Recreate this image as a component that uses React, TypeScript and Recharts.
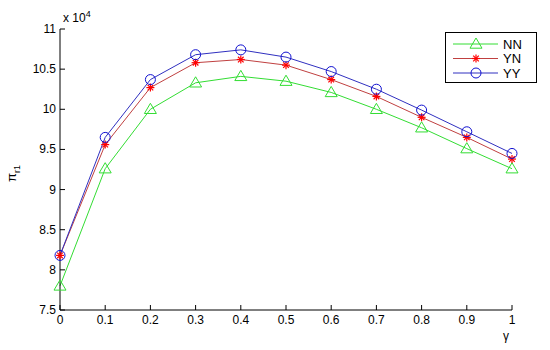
import { LineChart, Line, XAxis, YAxis } from "recharts";

const gammas = [0, 0.1, 0.2, 0.3, 0.4, 0.5, 0.6, 0.7, 0.8, 0.9, 1];
const nn = [7.8, 9.26, 10.0, 10.33, 10.41, 10.35, 10.21, 10.0, 9.77, 9.51, 9.26];
const yn = [8.18, 9.56, 10.27, 10.58, 10.62, 10.55, 10.37, 10.16, 9.9, 9.65, 9.38];
const yy = [8.18, 9.65, 10.37, 10.68, 10.74, 10.65, 10.47, 10.25, 9.99, 9.72, 9.45];
const xTicks = [0, 0.1, 0.2, 0.3, 0.4, 0.5, 0.6, 0.7, 0.8, 0.9, 1];
const yTicks = [7.5, 8, 8.5, 9, 9.5, 10, 10.5, 11];

const data = gammas.map((g, i) => ({ g, NN: nn[i], YN: yn[i], YY: yy[i] }));

const FONT = "'Liberation Sans', Arial, sans-serif";
const TICK = 5;

function Triangle({ cx, cy, color }: any) {
  const s = 6;
  return (
    <polygon
      points={`${cx},${cy - s} ${cx - s},${cy + s * 0.7} ${cx + s},${cy + s * 0.7}`}
      fill="none"
      stroke={color}
      strokeWidth={1}
    />
  );
}

function Star({ cx, cy, color }: any) {
  const s = 4;
  return (
    <g stroke={color} strokeWidth={1.2}>
      <line x1={cx - s} y1={cy} x2={cx + s} y2={cy} />
      <line x1={cx} y1={cy - s} x2={cx} y2={cy + s} />
      <line x1={cx - s * 0.7} y1={cy - s * 0.7} x2={cx + s * 0.7} y2={cy + s * 0.7} />
      <line x1={cx - s * 0.7} y1={cy + s * 0.7} x2={cx + s * 0.7} y2={cy - s * 0.7} />
    </g>
  );
}

function Circle({ cx, cy, color }: any) {
  return <circle cx={cx} cy={cy} r={5} fill="none" stroke={color} strokeWidth={1} />;
}

const series = [
  { key: "NN", line: "#33dd33", mark: "#33dd33", Marker: Triangle },
  { key: "YN", line: "#c04040", mark: "#ff0000", Marker: Star },
  { key: "YY", line: "#3030c0", mark: "#1010d0", Marker: Circle },
];

function BottomTick({ x, y, payload }: any) {
  return (
    <g>
      <line x1={x} y1={y} x2={x} y2={y - TICK} stroke="#000" />
      <text x={x} y={y + 14} textAnchor="middle" fontSize={12} fill="#000" fontFamily={FONT}>
        {payload.value}
      </text>
    </g>
  );
}

function TopTick({ x, y }: any) {
  return <line x1={x} y1={y} x2={x} y2={y + TICK} stroke="#000" />;
}

function LeftTick({ x, y, payload }: any) {
  return (
    <g>
      <line x1={x} y1={y} x2={x + TICK} y2={y} stroke="#000" />
      <text x={x - 4} y={y + 4} textAnchor="end" fontSize={12} fill="#000" fontFamily={FONT}>
        {payload.value}
      </text>
    </g>
  );
}

function RightTick({ x, y }: any) {
  return <line x1={x} y1={y} x2={x - TICK} y2={y} stroke="#000" />;
}

function LegendBox() {
  return (
    <svg width={92} height={51} style={{ position: "absolute", left: 445, top: 32 }}>
      <rect x={0.5} y={0.5} width={91} height={50} fill="#fff" stroke="#000" />
      {series.map((s, i) => {
        const cy = 12 + i * 14.5;
        const M = s.Marker;
        return (
          <g key={s.key}>
            <line x1={8} y1={cy} x2={53} y2={cy} stroke={s.line} />
            <M cx={31} cy={cy} color={s.mark} />
            <text x={58} y={cy + 4.5} fontSize={13} fontFamily={FONT} fill="#000">
              {s.key}
            </text>
          </g>
        );
      })}
    </svg>
  );
}

export default function App() {
  return (
    <div style={{ position: "absolute", left: 0, top: 0, width: 550, height: 350, background: "#fff" }}>
      <LineChart width={550} height={350} data={data} margin={{ top: 29, right: 38, bottom: 0, left: 0 }}>
        <XAxis
          dataKey="g"
          type="number"
          domain={[0, 1]}
          ticks={xTicks}
          tickSize={0}
          tickMargin={0}
          tickLine={false}
          tick={<BottomTick />}
          axisLine={{ stroke: "#000" }}
          height={40}
          interval={0}
        />
        <XAxis
          xAxisId="top"
          orientation="top"
          dataKey="g"
          type="number"
          domain={[0, 1]}
          ticks={xTicks}
          tickSize={0}
          tickMargin={0}
          tickLine={false}
          tick={<TopTick />}
          axisLine={{ stroke: "#000" }}
          height={0}
          interval={0}
        />
        <YAxis
          type="number"
          domain={[7.5, 11]}
          ticks={yTicks}
          tickSize={0}
          tickMargin={0}
          tickLine={false}
          tick={<LeftTick />}
          axisLine={{ stroke: "#000" }}
          width={60}
          interval={0}
        />
        <YAxis
          yAxisId="right"
          orientation="right"
          type="number"
          domain={[7.5, 11]}
          ticks={yTicks}
          tickSize={0}
          tickMargin={0}
          tickLine={false}
          tick={<RightTick />}
          axisLine={{ stroke: "#000" }}
          width={0}
          interval={0}
        />
        {series.map((s) => (
          <Line
            key={s.key}
            dataKey={s.key}
            stroke={s.line}
            strokeWidth={1}
            isAnimationActive={false}
            dot={(p: any) => <s.Marker key={`${s.key}-${p.index}`} cx={p.cx} cy={p.cy} color={s.mark} />}
            activeDot={false}
          />
        ))}
      </LineChart>
      <LegendBox />
      <div style={{ position: "absolute", left: 63, top: 9, fontFamily: FONT, fontSize: 12 }}>
        x 10<sup style={{ fontSize: 9 }}>4</sup>
      </div>
      <div
        style={{
          position: "absolute",
          left: 4,
          top: 182,
          fontFamily: FONT,
          fontSize: 13,
          transform: "rotate(-90deg)",
          transformOrigin: "left top",
          whiteSpace: "nowrap",
        }}
      >
        π<sub style={{ fontSize: 9 }}>r1</sub>
      </div>
      <div style={{ position: "absolute", left: 503, top: 329, fontFamily: FONT, fontSize: 12 }}>γ</div>
    </div>
  );
}
